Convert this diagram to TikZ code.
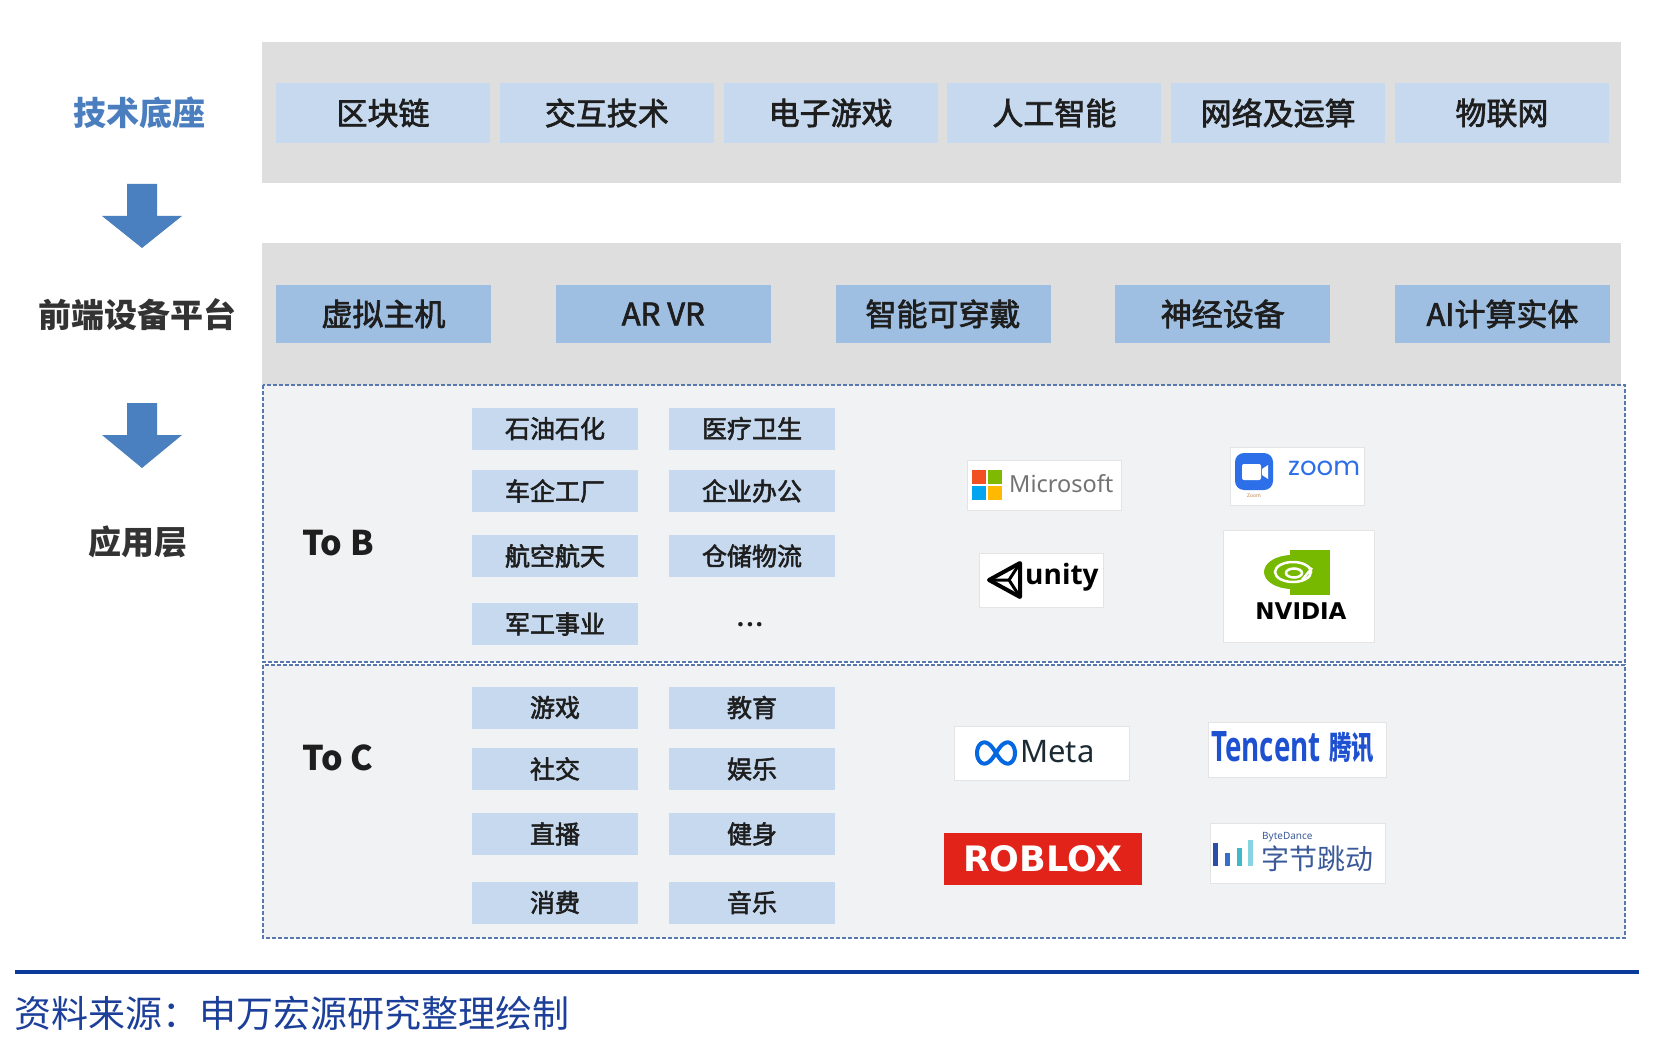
\documentclass[tikz,border=0pt]{standalone}
\usepackage{fontspec}
\setmainfont{Noto Sans CJK SC}
\newfontfamily\cjkmed[FakeBold=2.2]{Noto Sans CJK SC}
\newfontfamily\latinfont{Noto Sans}
\newfontfamily\boldlatin{Open Sans}
\newfontfamily\popfont{Poppins}
\newfontfamily\djfont{DejaVu Sans}
\definecolor{panelgray}{HTML}{DEDEDE}
\definecolor{lightblue}{HTML}{C6D9EE}
\definecolor{midblue}{HTML}{9FBFE2}
\definecolor{textdark}{HTML}{1E1E1E}
\definecolor{labelblue}{HTML}{4A7EBF}
\definecolor{labeldark}{HTML}{333333}
\definecolor{arrowblue}{HTML}{4A7FC0}
\definecolor{dashblue}{HTML}{5878B0}
\definecolor{appfill}{HTML}{F1F2F4}
\definecolor{footblue}{HTML}{0A3A9A}
\definecolor{foottext}{HTML}{1C3F9A}
\definecolor{logoedge}{HTML}{E4E4E4}
\definecolor{msred}{HTML}{F25022}
\definecolor{msgreen}{HTML}{7FBA00}
\definecolor{msblue}{HTML}{00A4EF}
\definecolor{msyellow}{HTML}{FFB900}
\definecolor{msgray}{HTML}{737373}
\definecolor{zoomblue}{HTML}{2D6FE8}
\definecolor{nvgreen}{HTML}{76B900}
\definecolor{metablue}{HTML}{0668E1}
\definecolor{metadark}{HTML}{1C2B33}
\definecolor{tcblue}{HTML}{1E50D2}
\definecolor{roblred}{HTML}{E2231A}
\definecolor{bdtext}{HTML}{3C5A9A}
\definecolor{bdbar1}{HTML}{2B4FA8}
\definecolor{bdbar2}{HTML}{3370C8}
\definecolor{bdbar3}{HTML}{3FB8C8}
\definecolor{bdbar4}{HTML}{86D4E0}
\begin{document}
\begin{tikzpicture}[x=1pt,y=-1pt,
  panel/.style={fill=panelgray,draw=none},
  topbox/.style={fill=lightblue,minimum width=214pt,minimum height=60pt,inner sep=0pt,text=textdark,font=\cjkmed\fontsize{31}{31}\selectfont},
  midbox/.style={fill=midblue,minimum width=215pt,minimum height=58pt,inner sep=0pt,text=textdark,font=\cjkmed\fontsize{31}{31}\selectfont},
  appbox/.style={fill=lightblue,minimum width=166pt,minimum height=42pt,inner sep=0pt,text=textdark,font=\cjkmed\fontsize{25}{25}\selectfont},
  leftlabel/.style={inner sep=0pt,font=\fontsize{33}{33}\selectfont\bfseries},
  tolabel/.style={inner sep=0pt,text=textdark,font=\fontsize{34}{34}\selectfont\bfseries},
  appframe/.style={fill=appfill,draw=dashblue,line width=2pt,dash pattern=on 4pt off 2pt},
  logobox/.style={fill=white,draw=logoedge,line width=1pt,inner sep=0pt},
  downarrow/.style={fill=arrowblue,draw=none}
]
\useasboundingbox (0,0) rectangle (1678,1040);
\fill[white] (0,0) rectangle (1678,1040);

% panels
\fill[panel] (262,42) rectangle (1621,183);
\fill[panel] (262,243) rectangle (1621,385);

% left labels
\node[leftlabel,text=labelblue] (l1) at (139,113) {技术底座};
\node[leftlabel,text=labeldark] (l2) at (137,315) {前端设备平台};
\node[leftlabel,text=labeldark] (l3) at (138,542) {应用层};

% arrows
\fill[downarrow] (127,184) -- (157,184) -- (157,216) -- (182,216) -- (142,248) -- (102,216) -- (127,216) -- cycle;
\fill[downarrow] (127,403) -- (157,403) -- (157,435) -- (182,435) -- (142,468) -- (102,435) -- (127,435) -- cycle;

% technology row
\node[topbox] (t1) at (383,113) {区块链};
\node[topbox] (t2) at (606.8,113) {交互技术};
\node[topbox] (t3) at (830.6,113) {电子游戏};
\node[topbox] (t4) at (1054.4,113) {人工智能};
\node[topbox] (t5) at (1278.2,113) {网络及运算};
\node[topbox] (t6) at (1502,113) {物联网};

% device row
\node[midbox] (d1) at (383.5,314) {虚拟主机};
\node[midbox] (d2) at (663.25,314) {AR VR};
\node[midbox] (d3) at (943,314) {智能可穿戴};
\node[midbox] (d4) at (1222.75,314) {神经设备};
\node[midbox] (d5) at (1502.5,314) {AI计算实体};

% application frames
\draw[appframe] (263,385) rectangle (1625,662);
\draw[appframe] (263,665) rectangle (1625,938);

\node[tolabel] (tob) at (338,543) {To B};
\node[tolabel] (toc) at (338,758) {To C};

% To B boxes
\node[appbox] (b1) at (555,428.5) {石油石化};
\node[appbox] (b2) at (752,428.5) {医疗卫生};
\node[appbox] (b3) at (555,491) {车企工厂};
\node[appbox] (b4) at (752,491) {企业办公};
\node[appbox] (b5) at (555,556) {航空航天};
\node[appbox] (b6) at (752,556) {仓储物流};
\node[appbox] (b7) at (555,624) {军工事业};
\node[inner sep=0pt,text=textdark,font=\boldlatin\bfseries\fontsize{26}{26}\selectfont] (b8) at (750,625) {.\kern2pt.\kern2pt.};

% To C boxes
\node[appbox] (c1) at (555,707.5) {游戏};
\node[appbox] (c2) at (752,707.5) {教育};
\node[appbox] (c3) at (555,769) {社交};
\node[appbox] (c4) at (752,769) {娱乐};
\node[appbox] (c5) at (555,834) {直播};
\node[appbox] (c6) at (752,834) {健身};
\node[appbox] (c7) at (555,902.5) {消费};
\node[appbox] (c8) at (752,902.5) {音乐};

% Microsoft
\node[logobox,minimum width=154pt,minimum height=50pt] (ms) at (1044,485) {};
\fill[msred] (972,470) rectangle (986,484);
\fill[msgreen] (988,470) rectangle (1002,484);
\fill[msblue] (972,486) rectangle (986,500);
\fill[msyellow] (988,486) rectangle (1002,500);
\node[anchor=west,inner sep=0pt,text=msgray,font=\latinfont\fontsize{23.5}{23.5}\selectfont] (mstext) at (1009,484) {Microsoft};

% unity
\node[logobox,minimum width=124pt,minimum height=54pt] (un) at (1041,580) {};
\draw[black,line width=4pt,line join=round] (989,580) -- (1020,563) -- (1020,597) -- cycle;
\draw[black,line width=3pt] (1009,580) -- (989,580) (1009,580) -- (1020,563) (1009,580) -- (1020,597);
\node[anchor=west,inner sep=0pt,text=black,font=\boldlatin\bfseries\fontsize{28}{28}\selectfont] (untext) at (1025,577) {unity};

% zoom
\node[logobox,minimum width=134pt,minimum height=58pt] (zm) at (1297,476) {};
\fill[zoomblue,rounded corners=9pt] (1235,453) rectangle (1273,490);
\fill[white,rounded corners=2pt] (1242,464) rectangle (1261,480);
\fill[white] (1262,469) -- (1268,465) -- (1268,479) -- (1262,475) -- cycle;
\node[inner sep=0pt,text=brown,font=\latinfont\fontsize{5}{5}\selectfont] (zmsmall) at (1254,496) {Zoom};
\node[anchor=west,inner sep=0pt,text=zoomblue,font=\popfont\fontsize{26}{26}\selectfont] (zmtext) at (1288,468) {zoom};

% NVIDIA
\node[logobox,minimum width=151pt,minimum height=112pt] (nv) at (1298.5,586) {};
\fill[nvgreen] (1290,550) rectangle (1330,595);
\fill[nvgreen] (1292,572) ellipse (28 and 17);
\draw[white,line width=2.5pt] (1293,572) ellipse (18 and 10);
\draw[white,line width=2.5pt] (1294,573) ellipse (8 and 4.5);
\draw[white,line width=2.5pt] (1302,580) -- (1312,568);
\node[inner sep=0pt,text=black,font=\djfont\bfseries\fontsize{23}{23}\selectfont] (nvtext) at (1301,611) {NVIDIA};

% Meta
\node[logobox,minimum width=175pt,minimum height=54pt] (mt) at (1041.5,753) {};
\draw[metablue,line width=4pt] plot[domain=0:360,samples=80,smooth cycle] ({996+19*cos(\x)/(1+sin(\x)^2)},{753+30*sin(\x)*cos(\x)/(1+sin(\x)^2)});
\node[anchor=west,inner sep=0pt,text=metadark,font=\latinfont\fontsize{31}{31}\selectfont] (mttext) at (1020,752) {Meta};

% Tencent
\node[logobox,minimum width=178pt,minimum height=55pt] (tc) at (1297,749.5) {};
\node[anchor=west,inner sep=0pt,text=tcblue,font=\boldlatin\bfseries\fontsize{42}{42}\selectfont] (tctext) at (1211,747) {\scalebox{0.66}[1]{Tencent}};
\node[anchor=west,inner sep=0pt,text=tcblue,font=\bfseries\fontsize{32}{32}\selectfont] (tccn) at (1329,748) {\scalebox{0.7}[1]{腾讯}};

% ROBLOX
\node[fill=roblred,minimum width=198pt,minimum height=52pt,inner sep=0pt,text=white,font=\djfont\bfseries\fontsize{35}{35}\selectfont] (rb) at (1043,859) {ROBLOX};

% ByteDance
\node[logobox,minimum width=175pt,minimum height=60pt] (bd) at (1297.5,853) {};
\fill[bdbar1] (1213,843) rectangle (1218,866);
\fill[bdbar2] (1225,853) rectangle (1230,866);
\fill[bdbar3] (1237,848) rectangle (1242,866);
\fill[bdbar4] (1248,840) rectangle (1253,866);
\node[anchor=west,inner sep=0pt,text=bdtext,font=\latinfont\fontsize{10}{10}\selectfont] (bdsmall) at (1262,837) {ByteDance};
\node[anchor=west,inner sep=0pt,text=bdtext,font=\fontsize{28}{28}\selectfont] (bdtext) at (1261,859) {字节跳动};

% footer
\coordinate (fl) at (15,972);
\coordinate (fr) at (1639,972);
\draw[footblue,line width=3.5pt] (fl) -- (fr);
\node[anchor=west,inner sep=0pt,text=foottext,font=\fontsize{37}{37}\selectfont] (src) at (14,1013) {资料来源：申万宏源研究整理绘制};
\end{tikzpicture}
\end{document}
